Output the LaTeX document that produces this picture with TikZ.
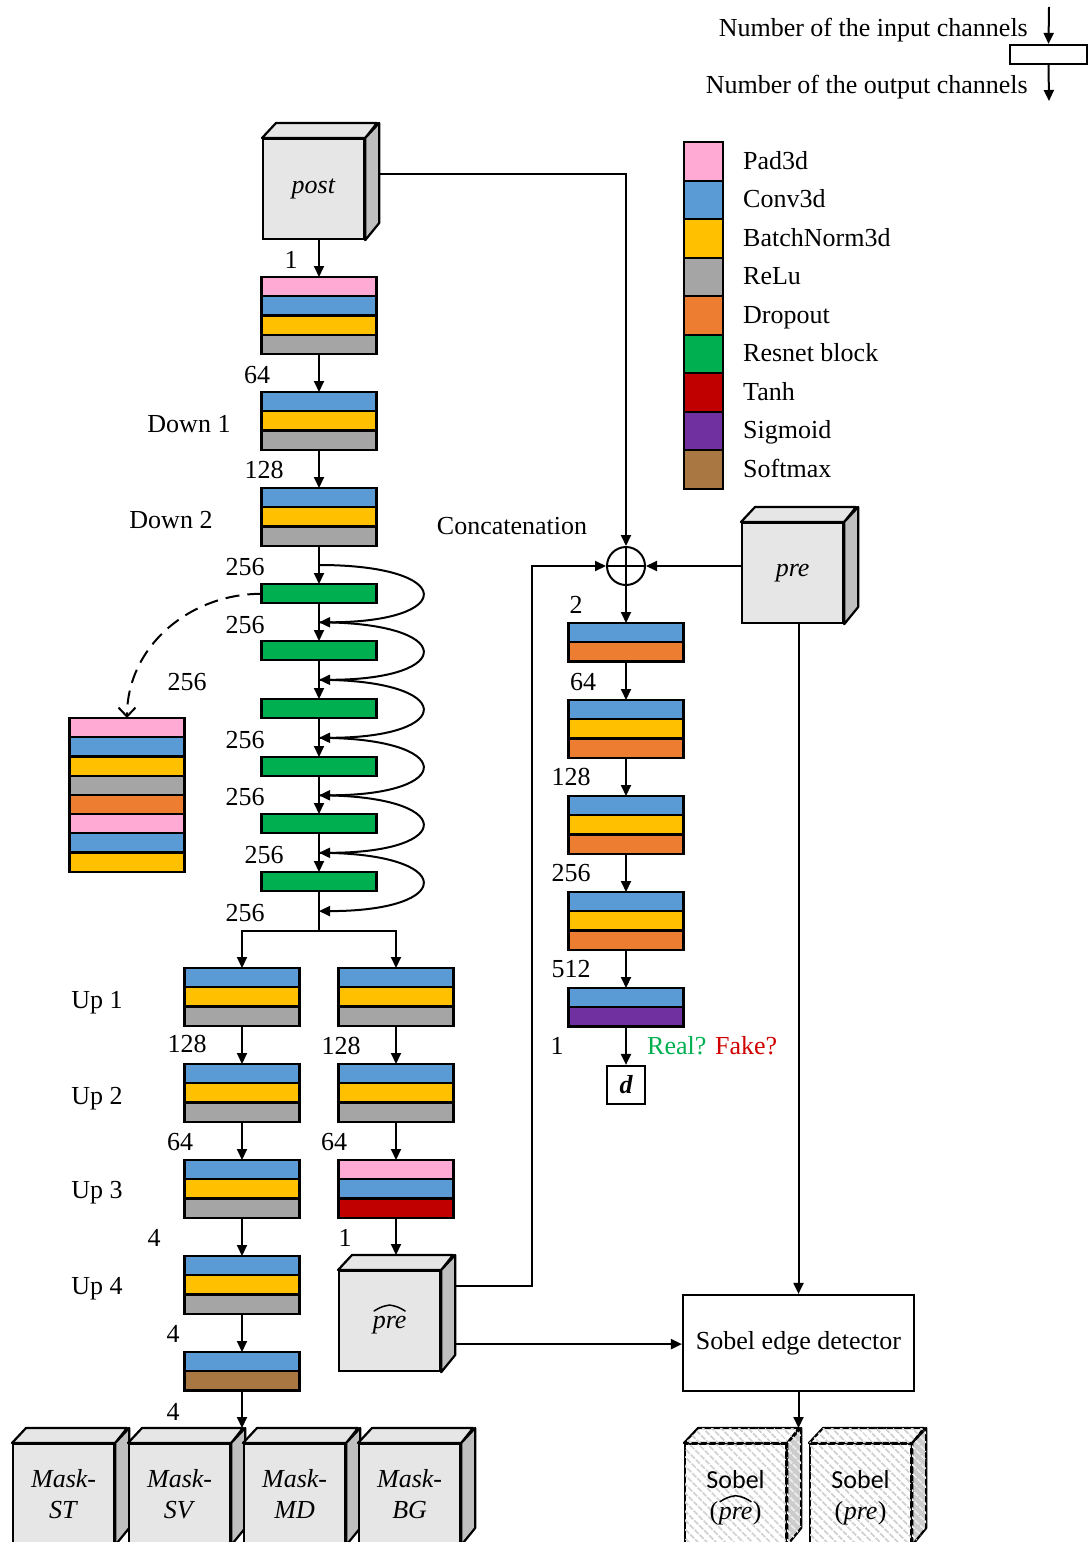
\documentclass[tikz,border=0pt]{standalone}
\usepackage{fontspec}
\setmainfont{Liberation Serif}
\setsansfont{Carlito}
\usetikzlibrary{arrows.meta,calc,patterns.meta}

% layer colours
\definecolor{cpink}{HTML}{FFAAD4}
\definecolor{cblue}{HTML}{5B9BD5}
\definecolor{cyel}{HTML}{FFC000}
\definecolor{cgray}{HTML}{A5A5A5}
\definecolor{corange}{HTML}{ED7D31}
\definecolor{cgreen}{HTML}{00B050}
\definecolor{cred}{HTML}{C00000}
\definecolor{cpurple}{HTML}{7030A0}
\definecolor{cbrown}{HTML}{A97842}
% cube faces
\definecolor{facelight}{HTML}{E6E6E6}
\definecolor{facedark}{HTML}{BFBFBF}
\definecolor{hatchgray}{HTML}{D2D2D2}
\definecolor{realgreen}{HTML}{00B050}
\definecolor{fakered}{HTML}{D00000}

\tikzset{
  blockline/.style={draw=black, line width=2.2pt},
  conn/.style={line width=2pt},
  arr/.style={conn, -{Triangle[length=11pt,width=10pt]}},
  lbl/.style={inner sep=0pt, text height=17pt, text depth=0pt},
  word/.style={inner sep=0pt},
  hatline/.style={line width=1.5pt, line cap=round, line join=round},
  cubefront/.style={fill=facelight},
  cubetop/.style={fill=facelight},
  cubeside/.style={fill=facedark},
  hatchfront/.style={fill=white, postaction={pattern color=hatchgray, pattern={Lines[angle=-45,distance=6.5pt,line width=2pt]}}},
  hatchtop/.style={fill=white, postaction={pattern color=hatchgray, pattern={Lines[angle=-45,distance=6.5pt,line width=2pt]}}},
  hatchside/.style={fill=facedark!80, postaction={pattern color=white!85!gray, pattern={Lines[angle=-45,distance=6.5pt,line width=2pt]}}},
}

% a stack of coloured layers: name, centre x, top y, number of layers, colours
\newcommand\blockstack[5]{%
  \foreach \lc [count=\li from 0] in {#5}{
    \filldraw[fill=\lc, blockline] ({#2-57.5},{#3+\li*19.2}) rectangle ({#2+57.5},{#3+(\li+1)*19.2});
  }
  \node[inner sep=0pt, minimum width=115pt, minimum height={#4*19.2pt}, anchor=north] (#1) at (#2,#3) {};
}

% a box drawn as a cube: name, left x, top y, look (cube/hatch), text
\newcommand\boxcube[5]{%
  \node[draw, line width=2.2pt, #4front, minimum width=101pt, minimum height=100pt,
        inner sep=0pt, anchor=north west, align=center] (#1) at (#2,#3) {#5};
  \filldraw[line width=2.2pt, line join=round, #4top]
    (#1.north west) -- ++(14,-15) -- ++(101,0) -- (#1.north east) -- cycle;
  \filldraw[line width=2.2pt, line join=round, #4side]
    (#1.north east) -- ++(14,-15) -- ++(0,100) -- (#1.south east) -- cycle;
  \coordinate (#1-top) at ($(#1.north east)+(14,-15)$);
}

% wide hat over a word node
\newcommand\widehatover[1]{%
  \draw[hatline] ($(#1.north west)+(1.5,-5)$) to[bend left=12] ($(#1.north)+(0,-11)$)
    to[bend left=12] ($(#1.north east)+(-1.5,-5)$);
}

\begin{document}
\begin{tikzpicture}[x=1pt, y=-1pt, font=\fontsize{26}{31}\selectfont]
\useasboundingbox (0,0) rectangle (1089,1542);
\clip (0,0) rectangle (1089,1542);

% ---- channel-count key ----
\node[draw, line width=2.2pt, minimum width=77pt, minimum height=19pt, inner sep=0pt] (key) at (1048.5,54.5) {};
\coordinate (keyin) at (1049,7);
\coordinate (keyout) at (1049,101);
\draw[arr] (keyin) -- (key.north);
\draw[arr] (key.south) -- (keyout);
\node[lbl, anchor=east] (keyinlbl) at (1028,28) {Number of the input channels};
\node[lbl, anchor=east] (keyoutlbl) at (1028,85) {Number of the output channels};

% ---- layer legend ----
\foreach \lcol/\ltext [count=\k] in {cpink/Pad3d, cblue/Conv3d, cyel/BatchNorm3d, cgray/ReLu,
    corange/Dropout, cgreen/Resnet block, cred/Tanh, cpurple/Sigmoid, cbrown/Softmax} {
  \node[draw, line width=2.2pt, fill=\lcol, minimum width=39pt, minimum height=38.5pt,
        inner sep=0pt, anchor=north west] (sw\k) at (683,{141+(\k-1)*38.5}) {};
  \node[lbl, anchor=west] (swl\k) at (743,{160.5+(\k-1)*38.5}) {\ltext};
}

% ---- cubes ----
\boxcube{post}{262}{138}{cube}{\textit{post}}
\boxcube{pre}{741}{522}{cube}{\textit{pre}}
\boxcube{prehat}{338}{1270}{cube}{}
\boxcube{mst}{12}{1443}{cube}{\textit{Mask-}\\\textit{ST}}
\boxcube{msv}{128}{1443}{cube}{\textit{Mask-}\\\textit{SV}}
\boxcube{mmd}{243}{1443}{cube}{\textit{Mask-}\\\textit{MD}}
\boxcube{mbg}{358}{1443}{cube}{\textit{Mask-}\\\textit{BG}}
\boxcube{sob1}{684}{1443}{hatch}{}
\boxcube{sob2}{809}{1443}{hatch}{}

% texts on the cubes that carry a hat
\node[word] (prehatw) at ($(prehat.center)+(0,4)$) {\textit{pre}};
\widehatover{prehatw}
\node[word, anchor=base, font=\fontsize{26}{31}\selectfont\sffamily] (sob1a) at ($(sob1.center)+(0,-6)$) {Sobel};
\node[word, anchor=base] (sob1w) at ($(sob1.center)+(0,25)$) {\textit{pre}};
\node[word, anchor=base east] (sob1l) at (sob1w.base west) {(};
\node[word, anchor=base west] (sob1r) at (sob1w.base east) {)};
\widehatover{sob1w}
\node[word, anchor=base, font=\fontsize{26}{31}\selectfont\sffamily] (sob2a) at ($(sob2.center)+(0,-6)$) {Sobel};
\node[word, anchor=base] (sob2w) at ($(sob2.center)+(0,25)$) {\textit{pre}};
\node[word, anchor=base east] (sob2l) at (sob2w.base west) {(};
\node[word, anchor=base west] (sob2r) at (sob2w.base east) {)};

% ---- generator encoder ----
\blockstack{enc0}{319}{277}{4}{cpink,cblue,cyel,cgray}
\blockstack{down1}{319}{392}{3}{cblue,cyel,cgray}
\blockstack{down2}{319}{488}{3}{cblue,cyel,cgray}
\blockstack{res1}{319}{584}{1}{cgreen}
\blockstack{res2}{319}{641}{1}{cgreen}
\blockstack{res3}{319}{699}{1}{cgreen}
\blockstack{res4}{319}{757}{1}{cgreen}
\blockstack{res5}{319}{814}{1}{cgreen}
\blockstack{res6}{319}{872}{1}{cgreen}

% inside of a resnet block
\blockstack{stack}{127}{718}{8}{cpink,cblue,cyel,cgray,corange,cpink,cblue,cyel}

% ---- generator decoders ----
\blockstack{upL1}{242}{968}{3}{cblue,cyel,cgray}
\blockstack{upL2}{242}{1064}{3}{cblue,cyel,cgray}
\blockstack{upL3}{242}{1160}{3}{cblue,cyel,cgray}
\blockstack{upL4}{242}{1256}{3}{cblue,cyel,cgray}
\blockstack{soft}{242}{1352}{2}{cblue,cbrown}
\blockstack{upR1}{396}{968}{3}{cblue,cyel,cgray}
\blockstack{upR2}{396}{1064}{3}{cblue,cyel,cgray}
\blockstack{upR3}{396}{1160}{3}{cpink,cblue,cred}

% ---- discriminator ----
\node[draw, circle, line width=2pt, minimum size=38pt, inner sep=0pt] (oplus) at (626,566) {};
\draw[line width=2pt] (oplus.north) -- (oplus.south) (oplus.west) -- (oplus.east);
\blockstack{dis1}{626}{623}{2}{cblue,corange}
\blockstack{dis2}{626}{700}{3}{cblue,cyel,corange}
\blockstack{dis3}{626}{796}{3}{cblue,cyel,corange}
\blockstack{dis4}{626}{892}{3}{cblue,cyel,corange}
\blockstack{dis5}{626}{988}{2}{cblue,cpurple}
\node[draw, line width=2.2pt, minimum size=38pt, inner sep=0pt, font=\fontsize{26}{31}\selectfont\bfseries\itshape] (d) at (626,1085) {d};

\node[draw, line width=2.2pt, minimum width=231pt, minimum height=96pt, inner sep=0pt] (sobel) at (798.5,1343) {Sobel edge detector};

% ---- connectors: encoder ----
\draw[arr] (enc0.north |- post.south) -- (enc0.north);
\draw[arr] (enc0.south) -- (down1.north);
\draw[arr] (down1.south) -- (down2.north);
\draw[arr] (down2.south) -- (res1.north);
\draw[arr] (res1.south) -- (res2.north);
\draw[arr] (res2.south) -- (res3.north);
\draw[arr] (res3.south) -- (res4.north);
\draw[arr] (res4.south) -- (res5.north);
\draw[arr] (res5.south) -- (res6.north);
\coordinate (split) at ($(res6.south)+(0,39)$);
\coordinate (j0) at ($(down2.south)!0.5!(res1.north)$);
\coordinate (j1) at ($(res1.south)!0.5!(res2.north)$);
\coordinate (j2) at ($(res2.south)!0.5!(res3.north)$);
\coordinate (j3) at ($(res3.south)!0.5!(res4.north)$);
\coordinate (j4) at ($(res4.south)!0.5!(res5.north)$);
\coordinate (j5) at ($(res5.south)!0.5!(res6.north)$);
\coordinate (j6) at ($(res6.south)!0.5!(split)$);
\draw[conn] (res6.south) -- (split);
\draw[arr] (split) -| (upL1.north);
\draw[arr] (split) -| (upR1.north);

% skip connections round each resnet block
\draw[arr] (j0) .. controls +(138,0) and +(138,0) .. (j1);
\draw[arr] (j1) .. controls +(138,0) and +(138,0) .. (j2);
\draw[arr] (j2) .. controls +(138,0) and +(138,0) .. (j3);
\draw[arr] (j3) .. controls +(138,0) and +(138,0) .. (j4);
\draw[arr] (j4) .. controls +(138,0) and +(138,0) .. (j5);
\draw[arr] (j5) .. controls +(138,0) and +(138,0) .. (j6);

% zoom into a resnet block
\draw[conn, dash pattern=on 14pt off 8pt, -{Straight Barb[length=9pt,width=17pt]}]
  (res1.west) to[out=180, in=90] (stack.north);

% ---- connectors: decoders ----
\draw[arr] (upL1.south) -- (upL2.north);
\draw[arr] (upL2.south) -- (upL3.north);
\draw[arr] (upL3.south) -- (upL4.north);
\draw[arr] (upL4.south) -- (soft.north);
\draw[arr] (soft.south) -- (soft.south |- mmd-top);
\draw[arr] (upR1.south) -- (upR2.north);
\draw[arr] (upR2.south) -- (upR3.north);
\draw[arr] (upR3.south) -- (upR3.south |- prehat-top);

% ---- connectors: discriminator ----
\coordinate (postR) at ($(post.east)+(14,-15)$);
\draw[arr] (postR) -| (oplus.north);
\draw[arr] (pre.west |- oplus.east) -- (oplus.east);
\coordinate (phA) at ($(prehat.east)+(14,-35)$);
\coordinate (phB) at ($(prehat.east)+(14,23)$);
\draw[arr] (phA) -- ++(77,0) |- (oplus.west);
\draw[arr] (oplus.south) -- (dis1.north);
\draw[arr] (dis1.south) -- (dis2.north);
\draw[arr] (dis2.south) -- (dis3.north);
\draw[arr] (dis3.south) -- (dis4.north);
\draw[arr] (dis4.south) -- (dis5.north);
\draw[arr] (dis5.south) -- (d.north);

% ---- connectors: edge detector ----
\draw[arr] (phB) -- (phB -| sobel.west);
\draw[arr] (sobel.north |- pre.south) -- (sobel.north);
\draw[arr] (sobel.south) -- (sobel.south |- sob1-top);

% ---- labels ----
\node[lbl] (n1) at (291,260) {1};
\node[lbl] (n2) at (257,375) {64};
\node[lbl] (n3) at (264,470) {128};
\node[lbl] (n4) at (245,567) {256};
\node[lbl] (n5) at (245,625) {256};
\node[lbl] (n6) at (187,682) {256};
\node[lbl] (n7) at (245,740) {256};
\node[lbl] (n8) at (245,797) {256};
\node[lbl] (n9) at (264,855) {256};
\node[lbl] (n10) at (245,913) {256};
\node[lbl] (n11) at (187,1044) {128};
\node[lbl] (n12) at (341,1046) {128};
\node[lbl] (n13) at (180,1142) {64};
\node[lbl] (n14) at (334,1142) {64};
\node[lbl] (n15) at (154,1238) {4};
\node[lbl] (n16) at (345,1238) {1};
\node[lbl] (n17) at (173,1334) {4};
\node[lbl] (n18) at (173,1412) {4};
\node[lbl] (n19) at (576,605) {2};
\node[lbl] (n20) at (583,682) {64};
\node[lbl] (n21) at (571,777) {128};
\node[lbl] (n22) at (571,873) {256};
\node[lbl] (n23) at (571,969) {512};
\node[lbl] (n24) at (557,1046) {1};

\node[lbl] (t1) at (189,424) {Down 1};
\node[lbl] (t2) at (171,520) {Down 2};
\node[lbl] (t3) at (97,1000) {Up 1};
\node[lbl] (t4) at (97,1096) {Up 2};
\node[lbl] (t5) at (97,1190) {Up 3};
\node[lbl] (t6) at (97,1286) {Up 4};
\node[lbl] (tc) at (512,526) {Concatenation};
\node[lbl, anchor=west] (rf) at (647,1046) {\textcolor{realgreen}{Real?} \textcolor{fakered}{Fake?}};
\end{tikzpicture}
\end{document}
